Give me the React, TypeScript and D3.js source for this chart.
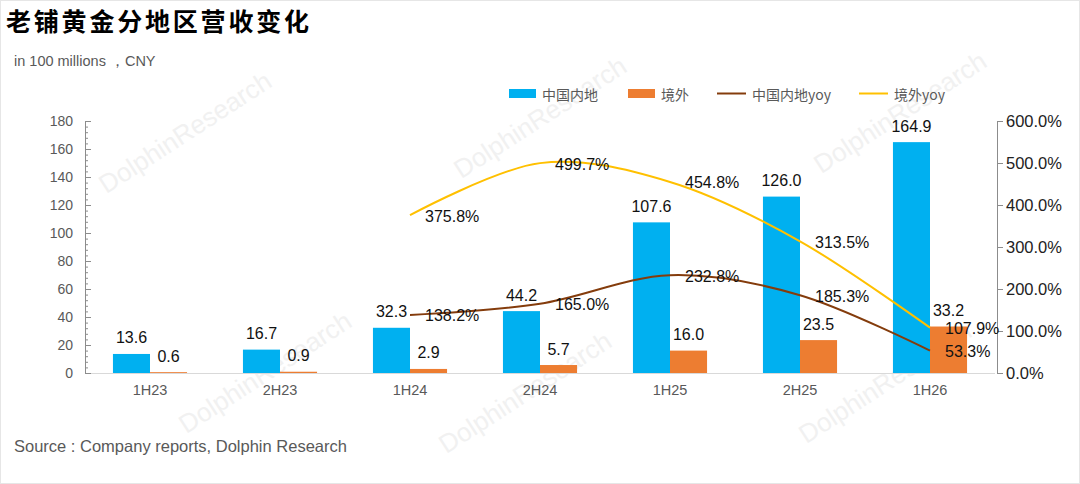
import * as React from 'react';
import * as d3 from 'd3';

const categories = ['1H23', '2H23', '1H24', '2H24', '1H25', '2H25', '1H26'];
const mainland = [13.6, 16.7, 32.3, 44.2, 107.6, 126.0, 164.9];
const overseas = [0.6, 0.9, 2.9, 5.7, 16.0, 23.5, 33.2];
const mainlandYoy = [null, null, 138.2, 165.0, 232.8, 185.3, 53.3];
const overseasYoy = [null, null, 375.8, 499.7, 454.8, 313.5, 107.9];
const leftTicks = [0, 20, 40, 60, 80, 100, 120, 140, 160, 180];
const rightTicks = [0, 100, 200, 300, 400, 500, 600];

const BLUE = '#00B0F0';
const ORANGE = '#ED7D31';
const BROWN = '#843C0C';
const YELLOW = '#FFC000';
const GRAY = '#595959';
const LATIN = 'Helvetica, "Liberation Sans", Arial, sans-serif';
const CJK = '"Noto Sans CJK SC", "Liberation Sans", sans-serif';

const W = 1080;
const H = 484;
const left = 85;
const right = 995;
const top = 121;
const bottom = 373;

const watermarks = [
  [190, 140], [545, 125], [905, 120], [270, 380], [530, 400], [890, 390],
];

const App = () => {
  React.useEffect(() => {
    document.body.style.margin = '0';
  }, []);

  const x = d3.scaleBand<string>().domain(categories).range([left, right]);
  const barW = x.bandwidth() * 0.285;
  const y = d3.scaleLinear().domain([0, 180]).range([bottom, top]);
  const y2 = d3.scaleLinear().domain([0, 600]).range([bottom, top]);
  const cx = (c: string) => (x(c) as number) + x.bandwidth() / 2;

  const line = d3
    .line<[string, number | null]>()
    .defined(d => d[1] != null)
    .x(d => cx(d[0]))
    .y(d => y2(d[1] as number))
    .curve(d3.curveCardinal.tension(0));

  const yoySeries = [
    { name: 'mainland', values: mainlandYoy, color: BROWN },
    { name: 'overseas', values: overseasYoy, color: YELLOW },
  ];

  const minorTicks = d3.range(0, 181, 4);

  const legend = [
    { label: '中国内地', color: BLUE, type: 'rect', x: 509 },
    { label: '境外', color: ORANGE, type: 'rect', x: 628 },
    { label: '中国内地yoy', color: BROWN, type: 'line', x: 717 },
    { label: '境外yoy', color: YELLOW, type: 'line', x: 859 },
  ];

  return (
    <div style={{ position: 'absolute', left: 0, top: 0 }}>
      <svg width={W} height={H} style={{ display: 'block', background: '#fff' }}>
        <rect x={0.5} y={0.5} width={W - 1} height={H - 1} fill="#fff" stroke="#e6e6e6" />

        {watermarks.map(([wx, wy], i) => (
          <text
            key={i}
            transform={`translate(${wx},${wy}) rotate(-33)`}
            textAnchor="middle"
            fontFamily={LATIN}
            fontSize={26}
            fill="#f1f1f1"
          >
            DolphinResearch
          </text>
        ))}

        <text x={6} y={31} fontFamily={CJK} fontWeight={700} fontSize={25} letterSpacing={2.8} fill="#000">
          老铺黄金分地区营收变化
        </text>
        <text x={14} y={66} fontFamily={LATIN} fontSize={14.5} fill={GRAY}>
          in 100 millions ，CNY
        </text>

        {legend.map(l => (
          <g key={l.label}>
            {l.type === 'rect' ? (
              <rect x={l.x} y={89} width={27} height={9} fill={l.color} />
            ) : (
              <line x1={l.x} x2={l.x + 29} y1={93.5} y2={93.5} stroke={l.color} strokeWidth={2} />
            )}
            <text
              x={l.x + (l.type === 'rect' ? 33 : 35)}
              y={94}
              dominantBaseline="central"
              fontFamily={CJK}
              fontSize={14}
              fill={GRAY}
            >
              {l.label}
            </text>
          </g>
        ))}

        {/* baseline */}
        <line x1={left} x2={right} y1={bottom + 0.5} y2={bottom + 0.5} stroke="#d9d9d9" />

        {/* left axis */}
        <line x1={left + 0.5} x2={left + 0.5} y1={top} y2={bottom} stroke="#8c8c8c" />
        {minorTicks.map(t => (
          <line key={'m' + t} x1={left} x2={left + 3} y1={y(t) + 0.5} y2={y(t) + 0.5} stroke="#8c8c8c" />
        ))}
        {leftTicks.map(t => (
          <g key={'l' + t}>
            <line x1={left} x2={left + 6} y1={y(t) + 0.5} y2={y(t) + 0.5} stroke="#8c8c8c" />
            <text
              x={left - 12}
              y={y(t)}
              textAnchor="end"
              dominantBaseline="central"
              fontFamily={LATIN}
              fontSize={14}
              fill={GRAY}
            >
              {t}
            </text>
          </g>
        ))}

        {/* right axis */}
        <line x1={997.5} x2={997.5} y1={top} y2={bottom} stroke="#8c8c8c" />
        {rightTicks.map(t => (
          <g key={'r' + t}>
            <line x1={997} x2={1003} y1={y2(t) + 0.5} y2={y2(t) + 0.5} stroke="#8c8c8c" />
            <text
              x={1006}
              y={y2(t)}
              dominantBaseline="central"
              fontFamily={LATIN}
              fontSize={16.5}
              fill="#222"
            >
              {t.toFixed(1)}%
            </text>
          </g>
        ))}

        {/* x labels */}
        {categories.map(c => (
          <text
            key={'x' + c}
            x={cx(c)}
            y={390}
            textAnchor="middle"
            dominantBaseline="central"
            fontFamily={LATIN}
            fontSize={14.5}
            fill={GRAY}
          >
            {c}
          </text>
        ))}

        {/* bars */}
        {categories.map((c, i) => (
          <g key={'b' + c}>
            <rect x={cx(c) - barW} y={y(mainland[i])} width={barW} height={bottom - y(mainland[i])} fill={BLUE} />
            <rect x={cx(c)} y={y(overseas[i])} width={barW} height={bottom - y(overseas[i])} fill={ORANGE} />
            <text
              x={cx(c) - barW / 2}
              y={y(mainland[i]) - 16}
              textAnchor="middle"
              dominantBaseline="central"
              fontFamily={LATIN}
              fontSize={16}
              fill="#111"
            >
              {mainland[i].toFixed(1)}
            </text>
            <text
              x={cx(c) + barW / 2}
              y={y(overseas[i]) - 16}
              textAnchor="middle"
              dominantBaseline="central"
              fontFamily={LATIN}
              fontSize={16}
              fill="#111"
            >
              {overseas[i].toFixed(1)}
            </text>
          </g>
        ))}

        {/* yoy lines */}
        {yoySeries.map(s => {
          const pts = categories.map((c, i) => [c, s.values[i]] as [string, number | null]);
          return (
            <g key={s.name}>
              <path d={line(pts.filter(p => p[1] != null)) || ''} fill="none" stroke={s.color} strokeWidth={2} />
              {pts
                .filter(p => p[1] != null)
                .map(p => (
                  <text
                    key={p[0]}
                    x={cx(p[0]) + 15}
                    y={y2(p[1] as number) + 1}
                    dominantBaseline="central"
                    fontFamily={LATIN}
                    fontSize={16}
                    fill="#111"
                  >
                    {(p[1] as number).toFixed(1)}%
                  </text>
                ))}
            </g>
          );
        })}

        <text x={14} y={446} dominantBaseline="central" fontFamily={LATIN} fontSize={16.5} fill={GRAY}>
          Source : Company reports, Dolphin Research
        </text>
      </svg>
    </div>
  );
};

export default App;
